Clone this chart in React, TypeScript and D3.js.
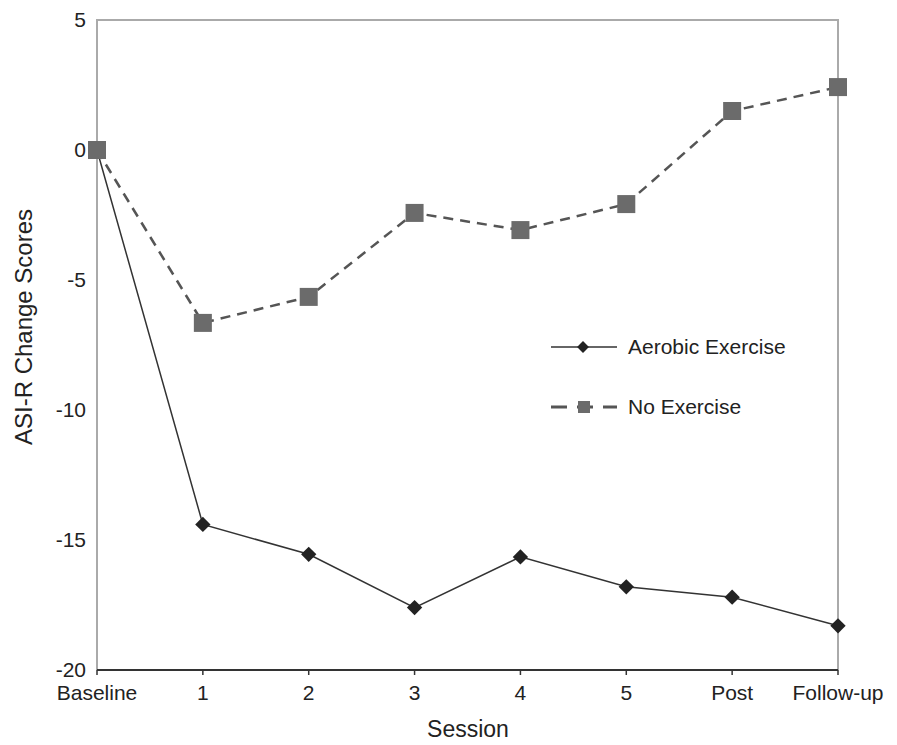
import * as d3 from "d3";

const sessions = ["Baseline", "1", "2", "3", "4", "5", "Post", "Follow-up"];
const aerobic = [0, -14.4, -15.55, -17.6, -15.65, -16.8, -17.2, -18.3];
const noExercise = [0, -6.65, -5.65, -2.42, -3.08, -2.08, 1.5, 2.42];
const yTicks = [5, 0, -5, -10, -15, -20];

const W = 897;
const H = 745;
const left = 97;
const right = 838;
const top = 20;
const bottom = 670;
const font = "'Liberation Sans', Arial, sans-serif";

export default function App() {
  const x = d3.scalePoint().domain(sessions).range([left, right]);
  const y = d3.scaleLinear().domain([-20, 5]).range([bottom, top]);

  const line = d3
    .line<number>()
    .x((_, i) => x(sessions[i])!)
    .y((d) => y(d));

  const diamond = d3.symbol().type(d3.symbolDiamond2).size(150)();

  return (
    <svg
      width={W}
      height={H}
      style={{ position: "absolute", left: 0, top: 0, background: "#fff" }}
      fontFamily={font}
    >
      {/* frame */}
      <path
        d={`M${left},${bottom} V${top} H${right} V${bottom}`}
        fill="none"
        stroke="#aaa"
        strokeWidth={2}
      />
      <line x1={left} x2={right} y1={bottom} y2={bottom} stroke="#333" strokeWidth={2} />
      {sessions.map((s) => (
        <g key={s}>
          <line x1={x(s)} x2={x(s)} y1={bottom} y2={bottom + 5} stroke="#333" strokeWidth={1.5} />
          <text x={x(s)} y={bottom + 30} textAnchor="middle" fontSize={21} fill="#222">
            {s}
          </text>
        </g>
      ))}
      {yTicks.map((t) => (
        <text key={t} x={86} y={y(t) + 7} textAnchor="end" fontSize={21} fill="#222">
          {t}
        </text>
      ))}
      <text x={468} y={737} textAnchor="middle" fontSize={23} fill="#222">
        Session
      </text>
      <text
        transform={`translate(32,327) rotate(-90)`}
        textAnchor="middle"
        fontSize={24}
        fill="#222"
      >
        ASI-R Change Scores
      </text>

      {/* Aerobic */}
      <path d={line(aerobic)!} fill="none" stroke="#333" strokeWidth={1.5} />
      {aerobic.map((v, i) => (
        <path
          key={i}
          d={diamond!}
          transform={`translate(${x(sessions[i])},${y(v)})`}
          fill="#222"
        />
      ))}

      {/* No exercise */}
      <path
        d={line(noExercise)!}
        fill="none"
        stroke="#555"
        strokeWidth={2.5}
        strokeDasharray="10,7"
      />
      {noExercise.map((v, i) => (
        <rect
          key={i}
          x={x(sessions[i])! - 9}
          y={y(v) - 9}
          width={18}
          height={18}
          fill="#6b6b6b"
        />
      ))}

      {/* legend */}
      <line x1={551} x2={617} y1={347} y2={347} stroke="#333" strokeWidth={1.5} />
      <path d={d3.symbol().type(d3.symbolDiamond2).size(90)()!} transform="translate(583,347)" fill="#222" />
      <text x={628} y={354} fontSize={21} fill="#222">
        Aerobic Exercise
      </text>
      <line
        x1={551}
        x2={617}
        y1={407}
        y2={407}
        stroke="#555"
        strokeWidth={3}
        strokeDasharray="16,10"
      />
      <rect x={578} y={401} width={12} height={12} fill="#6b6b6b" />
      <text x={628} y={414} fontSize={21} fill="#222">
        No Exercise
      </text>
    </svg>
  );
}
